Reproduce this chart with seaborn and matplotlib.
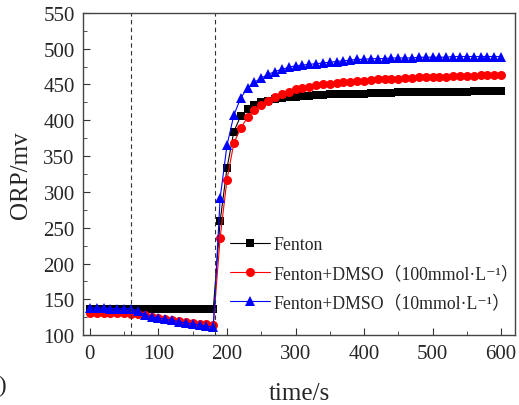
import matplotlib
matplotlib.use("Agg")
import matplotlib.pyplot as plt
from matplotlib.ticker import MultipleLocator
import seaborn as sns
import pandas as pd

# time axis, s
t_low = list(range(0, 190, 10))
t_high = list(range(190, 610, 10))
tempo = t_low + t_high

fenton_low = [136] * 19
fenton_high = [259, 333, 384, 406, 416, 421, 425, 427, 429, 431, 432, 433,
               434, 434, 435, 435, 436, 436, 436, 437, 437, 437, 438, 438,
               438, 438, 439, 439, 439, 439, 439, 440, 440, 440, 440, 440,
               440, 441, 441, 441, 441, 441]

dmso100_low = [131, 131, 131, 131, 131, 131, 130, 129, 128, 126, 124, 123,
               121, 120, 118, 117, 116, 115, 114]
dmso100_high = [236, 317, 368, 389, 404, 414, 421, 427, 432, 436, 440, 443,
                445, 447, 449, 450, 451, 452, 453, 454, 455, 455, 456, 457,
                457, 458, 458, 459, 459, 460, 460, 461, 461, 461, 462, 462,
                462, 462, 463, 463, 463, 463]

dmso10_low = [138, 138, 138, 137, 137, 137, 137, 134, 128, 126, 124, 122,
              121, 119, 117, 116, 114, 113, 111]
dmso10_high = [291, 365, 407, 431, 445, 453, 459, 464, 468, 471, 474, 476,
               477, 478, 479, 480, 481, 482, 483, 484, 485, 485, 486, 486,
               486, 487, 487, 487, 487, 488, 488, 488, 488, 488, 489, 489,
               489, 489, 489, 489, 489, 489]

nomes = ["Fenton",
         "Fenton+DMSO（100mmol·L⁻¹）",
         "Fenton+DMSO（10mmol·L⁻¹）"]

base = pd.DataFrame({
    "tempo": tempo * 3,
    "orp": fenton_low + fenton_high + dmso100_low + dmso100_high
           + dmso10_low + dmso10_high,
    "serie": [nomes[0]] * len(tempo) + [nomes[1]] * len(tempo)
             + [nomes[2]] * len(tempo),
})

sns.set_style("ticks")
plt.rcParams["font.family"] = ["Liberation Serif", "DejaVu Serif",
                               "Noto Sans CJK SC"]

cores = {nomes[0]: "black", nomes[1]: "red", nomes[2]: "blue"}
marcadores = {nomes[0]: "s", nomes[1]: "o", nomes[2]: "^"}
tamanhos = {nomes[0]: 6, nomes[1]: 6.5, nomes[2]: 6.5}

fig = plt.figure(figsize=(5.19, 4.06), dpi=100)
ax = fig.add_axes([0.160, 0.172, 0.832, 0.794])

for nome in nomes:
    sub = base[base["serie"] == nome]
    sns.lineplot(data=sub, x="tempo", y="orp", ax=ax, color=cores[nome],
                 marker=marcadores[nome], markersize=tamanhos[nome],
                 markeredgewidth=0, linewidth=0.8, label=nome)

ax.axvline(60, color="#333333", linestyle="--", linewidth=0.8, dashes=(4, 3))
ax.axvline(182, color="#333333", linestyle="--", linewidth=0.8, dashes=(4, 3))

ax.set_xlim(-10, 620)
ax.set_ylim(100, 550)
ax.xaxis.set_major_locator(MultipleLocator(100))
ax.xaxis.set_minor_locator(MultipleLocator(50))
ax.yaxis.set_major_locator(MultipleLocator(50))
ax.yaxis.set_minor_locator(MultipleLocator(25))
ax.tick_params(which="both", direction="in", top=False, right=False,
               labelsize=15, color="#333333")
ax.tick_params(which="major", length=5, pad=6)
ax.tick_params(which="minor", length=3)
for s in ax.spines.values():
    s.set_color("#444444")
    s.set_linewidth(1)

ax.set_xlabel("time/s", fontsize=18, labelpad=14)
ax.set_ylabel("ORP/mv", fontsize=18, labelpad=8)

ax.legend(loc="upper left", bbox_to_anchor=(0.325, 0.33), frameon=False,
          fontsize=12.8, handlelength=2.2, handletextpad=0.2,
          labelspacing=0.68, borderaxespad=0)

fig.text(-0.04, 0.035, "(b)", fontsize=17)

plt.savefig("out.png", dpi=100)
